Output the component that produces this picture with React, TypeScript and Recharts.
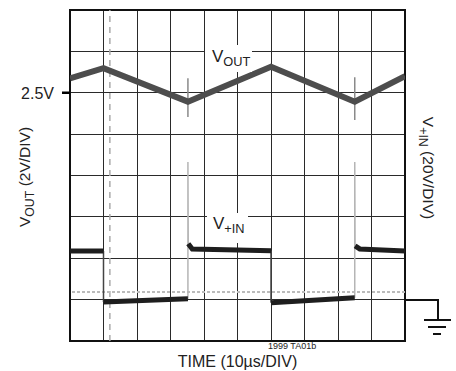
import { ComposedChart, Line, XAxis, YAxis, CartesianGrid, ReferenceLine, ReferenceArea, Label } from "recharts";

// time axis in µs (10µs/DIV), VOUT in volts (2V/DIV), V+IN in volts (20V/DIV)
const timeTicks = [0, 10, 20, 30, 40, 50, 60, 70, 80, 90, 100];
const voutTicks = [-9.5, -7.5, -5.5, -3.5, -1.5, 0.5, 2.5, 4.5, 6.5];
const voutMarked = 2.5;

const voutTime = [0, 10, 35.2, 60, 85, 100];
const voutVolts = [3.2, 3.69, 2.07, 3.76, 2.07, 3.3];

const voutSpikeTime = [35.2, 35.2, 35.2, 85, 85];
const voutSpikeVolts = [3.2, 1.33, null, 3.25, 1.18];

const vinTime = [0, 10, 10, 10, 35.2, 35.2, 35.3, 36.5, 60, 60, 60, 85, 85, 85.1, 86.5, 100];
const vinVolts = [23.5, 23.5, null, -1.2, 0.4, null, 27, 24.5, 23.6, null, -1.5, 0.9, null, 26, 24.5, 23.5];

const vinFallTime = [10, 10, 10, 60, 60];
const vinFallVolts = [23.5, -1.2, null, 23.6, -1.5];

const vinSpikeTime = [35.2, 35.2, 35.3, 35.3, 85, 85, 85.1];
const vinSpikeVolts = [0.4, 66.5, 27, null, 0.9, 66.5, 26];

const vinMarker = 3.7; // dotted trace
const cursorTime = 11.9; // dashed cursor

const zip = (t: number[], v: (number | null)[]) => t.map((x, i) => ({ t: x, v: v[i] }));

const FONT = '"Liberation Sans Narrow", "Arial Narrow", "Liberation Sans", Arial, sans-serif';
const INK = "#222";

function Sub({ main, sub, size }: { main: string; sub: string; size: number }) {
  return (
    <span>
      {main}
      <span style={{ fontSize: size * 0.8, position: "relative", top: size * 0.28 }}>{sub}</span>
    </span>
  );
}

const NoTick = () => <g />;

// only the 2.5V level gets a label and a tick mark
function VoutTick(props: any) {
  const { x, y, payload } = props;
  if (payload.value !== voutMarked) return <g />;
  return (
    <g>
      <line x1={x + 8} x2={x + 16} y1={y} y2={y} stroke="#000" strokeWidth={2.5} />
      <text x={x} y={y} dy="0.36em" textAnchor="end" fill={INK} fontSize={16} fontFamily={FONT}>
        {`${payload.value}V`}
      </text>
    </g>
  );
}

export default function App() {
  return (
    <div style={{ position: "absolute", left: 0, top: 0, width: 456, height: 371, background: "#fff", fontFamily: FONT, color: INK }}>
      <ComposedChart width={456} height={371} margin={{ top: 10, right: 51, bottom: 0, left: 8 }}>
        <XAxis
          xAxisId="t"
          type="number"
          dataKey="t"
          domain={[0, 100]}
          ticks={timeTicks}
          tick={NoTick}
          tickLine={false}
          axisLine={false}
          height={30}
          allowDataOverflow
        >
          <Label value="TIME (10µs/DIV)" position="insideBottom" offset={4} fill={INK} fontSize={16} fontFamily={FONT} />
        </XAxis>
        <YAxis
          yAxisId="vout"
          type="number"
          domain={[-9.5, 6.5]}
          ticks={voutTicks}
          width={62}
          axisLine={false}
          tickLine={false}
          tickSize={8}
          tickMargin={8}
          tick={VoutTick}
          interval={0}
          allowDataOverflow
        />
        <YAxis yAxisId="vin" type="number" orientation="right" domain={[-20, 140]} hide allowDataOverflow />
        <CartesianGrid xAxisId="t" yAxisId="vout" stroke="#2a2a2a" strokeWidth={1} shapeRendering="crispEdges" />
        <ReferenceArea xAxisId="t" yAxisId="vout" x1={0} x2={100} y1={-9.5} y2={6.5} fill="none" stroke="#111" strokeWidth={2} />
        <ReferenceLine xAxisId="t" yAxisId="vout" x={cursorTime} stroke="#aaa" strokeWidth={1.5} strokeDasharray="6 5" />
        <ReferenceLine xAxisId="t" yAxisId="vin" y={vinMarker} stroke="#bbb" strokeWidth={2} strokeDasharray="3 2" />
        <Line xAxisId="t" yAxisId="vin" data={zip(vinSpikeTime, vinSpikeVolts)} dataKey="v" stroke="#b5b5b5" strokeWidth={1.5} dot={false} isAnimationActive={false} />
        <Line xAxisId="t" yAxisId="vin" data={zip(vinFallTime, vinFallVolts)} dataKey="v" stroke="#444" strokeWidth={1.5} dot={false} isAnimationActive={false} />
        <Line xAxisId="t" yAxisId="vin" data={zip(vinTime, vinVolts)} dataKey="v" stroke="#1e1e1e" strokeWidth={5} dot={false} isAnimationActive={false} />
        <Line xAxisId="t" yAxisId="vout" data={zip(voutSpikeTime, voutSpikeVolts)} dataKey="v" stroke="#8a8a8a" strokeWidth={1.5} dot={false} isAnimationActive={false} />
        <Line xAxisId="t" yAxisId="vout" data={zip(voutTime, voutVolts)} dataKey="v" stroke="#4d4d4d" strokeWidth={6} dot={false} isAnimationActive={false} />
      </ComposedChart>

      {/* trace labels */}
      <div style={{ position: "absolute", left: 205, top: 45, width: 47, height: 27, background: "#fff", fontSize: 17, lineHeight: "20px", paddingLeft: 7, boxSizing: "border-box", paddingTop: 2 }}>
        <Sub main="V" sub="OUT" size={16} />
      </div>
      <div style={{ position: "absolute", left: 207, top: 213, width: 41, height: 30, background: "#fff", fontSize: 17, lineHeight: "20px", paddingLeft: 6, boxSizing: "border-box", paddingTop: 1 }}>
        <Sub main="V" sub="+IN" size={16} />
      </div>

      {/* axis titles */}
      <div style={{ position: "absolute", left: 25, top: 177, transform: "translate(-50%, -50%) rotate(-90deg)", whiteSpace: "nowrap", fontSize: 15.5 }}>
        <Sub main="V" sub="OUT" size={15.5} /> (2V/DIV)
      </div>
      <div style={{ position: "absolute", left: 428, top: 168, transform: "translate(-50%, -50%) rotate(90deg)", whiteSpace: "nowrap", fontSize: 15.5 }}>
        <Sub main="V" sub="+IN" size={15.5} /> (20V/DIV)
      </div>
      <div style={{ position: "absolute", left: 268, top: 341, fontSize: 9, whiteSpace: "nowrap" }}>1999 TA01b</div>

      {/* ground symbol for V+IN */}
      <svg style={{ position: "absolute", left: 400, top: 290 }} width={56} height={50}>
        <g stroke="#111" strokeWidth={2} fill="none">
          <polyline points="5,10 38,10 38,30" />
          <line x1={24} y1={30} x2={51} y2={30} />
          <line x1={28} y1={37} x2={46} y2={37} />
          <line x1={33} y1={44} x2={41} y2={44} />
        </g>
      </svg>
    </div>
  );
}
